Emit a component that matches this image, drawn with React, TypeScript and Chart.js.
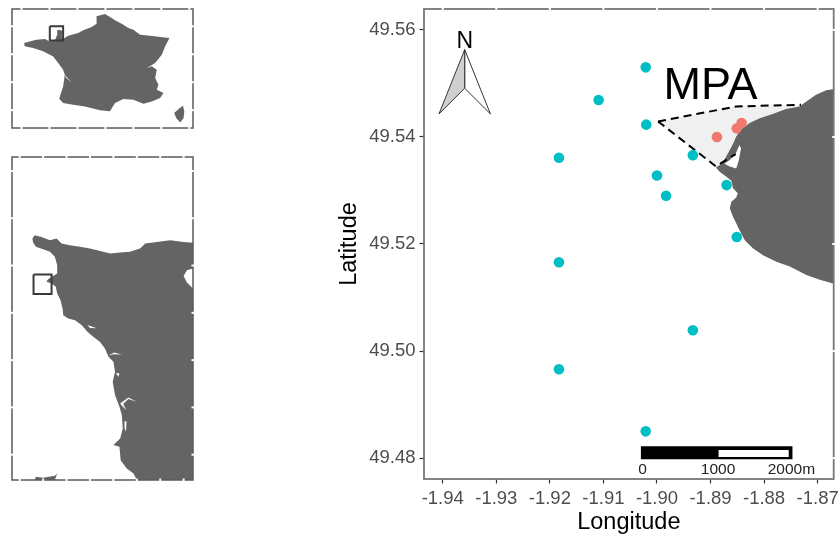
import React, { useEffect, useRef } from "react";
import { Chart, registerables } from "chart.js";

Chart.register(...registerables);

type P = [number, number];

// ---- France inset (lon, lat) ----
const franceLand: P[] = [
  [-4.77,48.51],[-4.27,48.65],[-3.67,48.80],[-2.92,48.86],[-2.47,48.65],[-2.02,48.74],[-1.81,49.25],[-1.81,49.64],
  [-1.57,49.70],[-1.34,49.55],[-1.40,49.10],[-1.28,48.86],[-0.83,49.16],[0.07,49.40],[0.52,49.64],[1.27,49.94],
  [1.71,50.24],[1.71,50.89],[2.46,51.10],[2.91,50.83],[3.36,50.54],[3.96,50.24],[4.55,49.85],[5.00,49.70],
  [5.60,49.25],[6.50,49.16],[7.39,49.04],[8.23,48.95],[7.84,48.21],[7.54,47.46],[6.95,46.71],[6.20,46.27],
  [6.65,46.42],[7.09,46.12],[6.95,45.37],[7.24,44.77],[7.09,44.33],[7.69,44.03],[7.39,43.58],[6.65,43.28],
  [5.90,43.07],[5.00,43.43],[4.11,43.49],[3.36,43.13],[2.91,42.39],[2.01,42.48],[0.67,42.83],[-0.38,42.98],
  [-1.28,43.13],[-1.63,43.52],[-1.28,44.62],[-1.13,45.67],[-1.28,46.12],[-1.72,46.71],[-2.17,47.31],[-3.07,47.76],
  [-3.97,48.06],[-4.71,48.21],
];
const corsica: P[] = [[9.43,42.89],[9.55,42.39],[9.49,41.79],[9.19,41.40],[8.83,41.79],[8.65,42.24],[9.04,42.59]];
const gironde: P[] = [[-1.22,45.76],[-0.53,44.98],[-0.98,45.37]];
const franceBox: P[] = [[-2.47,50.0],[-1.28,50.0],[-1.28,48.74],[-2.47,48.74],[-2.47,50.0]];

// ---- Normandy inset ----
const normandyLand: P[] = [
  [-1.26,49.696],[-1.30,49.70],[-1.357,49.707],[-1.414,49.70],[-1.464,49.693],[-1.486,49.672],[-1.529,49.658],
  [-1.571,49.655],[-1.614,49.651],[-1.657,49.661],[-1.70,49.672],[-1.743,49.679],[-1.786,49.686],[-1.821,49.693],
  [-1.843,49.714],[-1.871,49.707],[-1.907,49.721],[-1.936,49.728],[-1.946,49.714],[-1.943,49.697],[-1.931,49.679],
  [-1.90,49.669],[-1.871,49.658],[-1.85,49.637],[-1.84,49.601],[-1.84,49.566],[-1.857,49.556],[-1.879,49.542],
  [-1.886,49.531],[-1.864,49.524],[-1.846,49.51],[-1.84,49.482],[-1.826,49.454],[-1.817,49.418],[-1.814,49.39],
  [-1.793,49.376],[-1.764,49.369],[-1.736,49.348],[-1.711,49.32],[-1.686,49.299],[-1.657,49.277],[-1.636,49.249],
  [-1.621,49.214],[-1.60,49.193],[-1.593,49.151],[-1.603,49.108],[-1.593,49.052],[-1.574,49.003],[-1.564,48.968],
  [-1.56,48.911],[-1.571,48.869],[-1.60,48.841],[-1.574,48.834],[-1.569,48.777],[-1.543,48.742],[-1.514,48.721],
  [-1.50,48.693],[-1.26,48.693],
];
const chausey: P[] = [[-1.936,48.693],[-1.931,48.707],[-1.90,48.703],[-1.85,48.711],[-1.84,48.721],[-1.85,48.693]];
const normandyHoles: P[][] = [
  [[-1.26,49.587],[-1.286,49.58],[-1.30,49.556],[-1.286,49.528],[-1.26,49.503]],
  [[-1.711,49.348],[-1.671,49.335],[-1.70,49.336]],
  [[-1.621,49.218],[-1.597,49.232],[-1.564,49.224],[-1.60,49.225]],
  [[-1.589,49.144],[-1.574,49.144],[-1.579,49.13]],
  [[-1.571,49.017],[-1.536,49.042],[-1.50,49.024],[-1.536,49.036],[-1.558,49.015],[-1.546,48.989],[-1.566,49.01]],
  [[-1.553,48.939],[-1.544,48.942],[-1.546,48.897],[-1.552,48.911]],
];
const normandyBox: P[] = [[-1.941,49.562],[-1.864,49.562],[-1.864,49.48],[-1.941,49.48],[-1.941,49.562]];

// ---- Main map ----
const coast: P[] = [
  [-1.8659,49.5491],[-1.8684,49.5487],[-1.8703,49.5479],[-1.8721,49.5466],[-1.8734,49.5457],[-1.8759,49.5452],
  [-1.8784,49.5443],[-1.8808,49.5435],[-1.8827,49.5426],[-1.8843,49.5414],[-1.8852,49.5401],[-1.8857,49.5389],
  [-1.8861,49.5381],[-1.8871,49.5363],[-1.8878,49.5351],[-1.889,49.5343],[-1.8883,49.5335],[-1.8871,49.5326],
  [-1.8861,49.5318],[-1.8858,49.5304],[-1.8849,49.5295],[-1.8852,49.5287],[-1.8861,49.5279],[-1.8864,49.5267],
  [-1.8858,49.5251],[-1.8846,49.5226],[-1.8836,49.5207],[-1.8821,49.5192],[-1.8802,49.5179],[-1.8777,49.5167],
  [-1.8752,49.5158],[-1.8721,49.5142],[-1.8696,49.5133],[-1.8659,49.5123],
];
const inlet: P[] = [
  [-1.8846,49.5385],[-1.8853,49.5369],[-1.8864,49.5357],[-1.8874,49.535],[-1.8864,49.5345],[-1.8852,49.5341],
  [-1.8847,49.5357],[-1.8843,49.5379],
];
const mpaFill: P[] = [[-1.8998,49.5429],[-1.8852,49.5457],[-1.8731,49.546],[-1.878,49.54],[-1.885,49.536],[-1.889,49.5345]];
const mpaUpper: P[] = [[-1.8998,49.5429],[-1.8852,49.5457],[-1.8731,49.546]];
const mpaLower: P[] = [[-1.8998,49.5429],[-1.889,49.5345],[-1.8853,49.5368]];
const outsideStations: P[] = [
  [-1.9021,49.553],[-1.9109,49.5469],[-1.902,49.5423],[-1.9183,49.5361],[-1.8933,49.5366],[-1.90,49.5328],
  [-1.8983,49.529],[-1.887,49.531],[-1.8851,49.5213],[-1.9183,49.5166],[-1.8933,49.5039],[-1.9183,49.4966],[-1.9021,49.485],
];
const insideStations: P[] = [[-1.8888,49.54],[-1.8851,49.5416],[-1.8842,49.5426]];
const arrowLeft: P[] = [[-1.9359,49.5563],[-1.9407,49.5443],[-1.9359,49.5491]];
const arrowRight: P[] = [[-1.9359,49.5563],[-1.9311,49.5443],[-1.9359,49.5491]];
const scaleOuter: P[] = [[-1.903,49.4822],[-1.8747,49.4822],[-1.8747,49.4798],[-1.903,49.4798]];
const scaleInner: P[] = [[-1.8885,49.4815],[-1.8754,49.4815],[-1.8754,49.4802],[-1.8885,49.4802]];
const mapLabels = [
  { text: "MPA", x: -1.89, y: 49.5471, font: "45px 'Liberation Sans'", color: "#000" },
  { text: "N", x: -1.9359, y: 49.5567, font: "23px 'Liberation Sans'", color: "#000" },
  { text: "0", x: -1.9027, y: 49.4771, font: "15.5px 'Liberation Sans'", color: "#222" },
  { text: "1000", x: -1.8886, y: 49.4771, font: "15.5px 'Liberation Sans'", color: "#222" },
  { text: "2000m", x: -1.8749, y: 49.4771, font: "15.5px 'Liberation Sans'", color: "#222" },
];

const LAND = "#646464";
const xy = (pts: P[]) => pts.map(([x, y]) => ({ x, y }));
const poly = (pts: P[], color: string, order: number, extra: any = {}) => ({
  data: xy(pts), polygon: true, backgroundColor: color, showLine: false, pointRadius: 0, order, ...extra,
});
const path = (pts: P[], color: string, width: number, order: number, dash: number[] = []) => ({
  data: xy(pts), showLine: true, fill: false, borderColor: color, borderWidth: width, borderDash: dash,
  pointRadius: 0, order,
});

const mapPlugin = {
  id: "mapPlugin",
  beforeDatasetDraw(chart: any, args: any) {
    const ds = chart.data.datasets[args.index];
    if (!ds.polygon) return;
    const { ctx, chartArea: a } = chart;
    ctx.save();
    ctx.beginPath();
    ctx.rect(a.left, a.top, a.right - a.left, a.bottom - a.top);
    ctx.clip();
    ctx.beginPath();
    args.meta.data.forEach((p: any, i: number) => (i ? ctx.lineTo(p.x, p.y) : ctx.moveTo(p.x, p.y)));
    ctx.closePath();
    ctx.fillStyle = ds.backgroundColor;
    ctx.fill();
    if (ds.outline) {
      ctx.strokeStyle = ds.outline;
      ctx.lineWidth = 1;
      ctx.stroke();
    }
    ctx.restore();
  },
  afterDraw(chart: any, _a: any, opts: any) {
    const { ctx, chartArea: a, scales } = chart;
    ctx.save();
    ctx.strokeStyle = opts.frameColor || "#555";
    ctx.lineWidth = opts.frameWidth || 1.5;
    ctx.strokeRect(a.left, a.top, a.right - a.left, a.bottom - a.top);
    ctx.strokeStyle = "#fff";
    ctx.lineWidth = 2;
    const sides: string[] = opts.gaps || [];
    scales.x.ticks.forEach((t: any) => {
      const px = scales.x.getPixelForValue(t.value);
      if (sides.includes("top")) { ctx.beginPath(); ctx.moveTo(px, a.top - 1.5); ctx.lineTo(px, a.top + 1.5); ctx.stroke(); }
      if (sides.includes("bottom")) { ctx.beginPath(); ctx.moveTo(px, a.bottom - 1.5); ctx.lineTo(px, a.bottom + 1.5); ctx.stroke(); }
    });
    scales.y.ticks.forEach((t: any) => {
      const py = scales.y.getPixelForValue(t.value);
      if (sides.includes("right")) { ctx.beginPath(); ctx.moveTo(a.right - 1.5, py); ctx.lineTo(a.right + 1.5, py); ctx.stroke(); }
      if (sides.includes("left")) { ctx.beginPath(); ctx.moveTo(a.left - 1.5, py); ctx.lineTo(a.left + 1.5, py); ctx.stroke(); }
    });
    (opts.labels || []).forEach((l: any) => {
      ctx.font = l.font;
      ctx.fillStyle = l.color;
      ctx.textAlign = "center";
      ctx.textBaseline = "alphabetic";
      ctx.fillText(l.text, scales.x.getPixelForValue(l.x), scales.y.getPixelForValue(l.y));
    });
    ctx.restore();
  },
};

const noPad = (s: any) => { s.paddingLeft = 0; s.paddingRight = 0; s.paddingTop = 0; s.paddingBottom = 0; };

const insetAxis = (min: number, max: number, stepSize: number) => ({
  type: "linear" as const, min, max,
  afterFit: (s: any) => { noPad(s); if (s.isHorizontal()) s.height = 0; else s.width = 0; },
  ticks: { display: false, stepSize, includeBounds: false },
  grid: { display: false },
  border: { display: false },
});

const baseOptions = {
  responsive: false,
  animation: false as const,
  events: [] as any[],
};

function makeInset(canvas: HTMLCanvasElement, datasets: any[], xr: number[], yr: number[], padding: any) {
  return new Chart(canvas, {
    type: "scatter",
    data: { datasets },
    plugins: [mapPlugin],
    options: {
      ...baseOptions,
      layout: { padding },
      scales: { x: insetAxis(xr[0], xr[1], xr[2]), y: insetAxis(yr[0], yr[1], yr[2]) },
      plugins: {
        legend: { display: false }, tooltip: { enabled: false },
        mapPlugin: { gaps: ["top", "bottom", "left", "right"], frameColor: "#5a5a5a", frameWidth: 1.5 },
      } as any,
    },
  } as any);
}

export default function App() {
  const mainRef = useRef<HTMLCanvasElement>(null);
  const topRef = useRef<HTMLCanvasElement>(null);
  const midRef = useRef<HTMLCanvasElement>(null);

  useEffect(() => {
    const main = new Chart(mainRef.current!, {
      type: "scatter",
      data: {
        datasets: [
          poly(mpaFill, "#f0f0f0", 20),
          poly(coast, LAND, 19),
          poly(inlet, "#ffffff", 18),
          path(mpaUpper, "#000", 2, 17, [8, 5]),
          path(mpaLower, "#000", 2, 17, [8, 5]),
          poly(arrowLeft, "#cfcfcf", 16, { outline: "#333" }),
          poly(arrowRight, "#ffffff", 16, { outline: "#333" }),
          poly(scaleOuter, "#000", 15),
          poly(scaleInner, "#fff", 14),
          { data: xy(outsideStations), backgroundColor: "#00BFC4", borderWidth: 0, pointRadius: 5.3, order: 2 },
          { data: xy(insideStations), backgroundColor: "#F0786C", borderWidth: 0, pointRadius: 5.3, order: 1 },
        ],
      },
      plugins: [mapPlugin],
      options: {
        ...baseOptions,
        layout: { padding: { left: 335, right: 4, top: 9, bottom: -2 } },
        scales: {
          x: {
            type: "linear", min: -1.9435, max: -1.867,
            afterFit: (s: any) => { noPad(s); s.height = 58; },
            title: { display: true, text: "Longitude", color: "#000", font: { family: "'Liberation Sans'", size: 23.5 }, padding: 0 },
            ticks: {
              stepSize: 0.01, includeBounds: false, autoSkip: false, maxRotation: 0, padding: 4, color: "#4d4d4d",
              font: { family: "'Liberation Sans'", size: 18.5 },
              callback: (v: any) => Number(v).toFixed(2),
            },
            grid: { drawOnChartArea: false, color: "#333", tickLength: 4.5, tickWidth: 1.2 },
            border: { display: false },
          },
          y: {
            type: "linear", min: 49.4761, max: 49.5639,
            afterFit: (s: any) => { noPad(s); s.width = 89; },
            title: { display: true, text: "Latitude", color: "#000", font: { family: "'Liberation Sans'", size: 23.5 }, padding: 0 },
            ticks: {
              stepSize: 0.02, includeBounds: false, autoSkip: false, padding: 4, color: "#4d4d4d",
              font: { family: "'Liberation Sans'", size: 18.5 },
              callback: (v: any) => Number(v).toFixed(2),
            },
            grid: { drawOnChartArea: false, color: "#333", tickLength: 4.5, tickWidth: 1.2 },
            border: { display: false },
          },
        },
        plugins: {
          legend: { display: false }, tooltip: { enabled: false },
          mapPlugin: { gaps: ["top", "right"], frameColor: "#777", frameWidth: 1.8, labels: mapLabels },
        } as any,
      },
    } as any);

    const top = makeInset(
      topRef.current!,
      [
        poly(franceLand, LAND, 5),
        poly(corsica, LAND, 5),
        poly(gironde, "#ffffff", 4),
        path(franceBox, "#3a3a3a", 2, 1),
      ],
      [-5.85, 10.33, 2.5], [40.9, 51.55, 2.5],
      { left: 12, right: 7, top: 9, bottom: 12 },
    );

    const mid = makeInset(
      midRef.current!,
      [
        poly(normandyLand, LAND, 5),
        poly(chausey, LAND, 5),
        ...normandyHoles.map((h) => poly(h, "#ffffff", 4)),
        path(normandyBox, "#3a3a3a", 2, 1),
      ],
      [-2.033, -1.26, 0.1], [48.693, 50.059, 0.2],
      { left: 12, right: 7, top: 7, bottom: 10 },
    );

    return () => { main.destroy(); top.destroy(); mid.destroy(); };
  }, []);

  return (
    <div style={{ position: "absolute", left: 0, top: 0, width: 839, height: 535, background: "#fff", overflow: "hidden" }}>
      <canvas ref={mainRef} width={839} height={535} style={{ position: "absolute", left: 0, top: 0 }} />
      <canvas ref={topRef} width={200} height={140} style={{ position: "absolute", left: 0, top: 0 }} />
      <canvas ref={midRef} width={200} height={340} style={{ position: "absolute", left: 0, top: 150 }} />
    </div>
  );
}
